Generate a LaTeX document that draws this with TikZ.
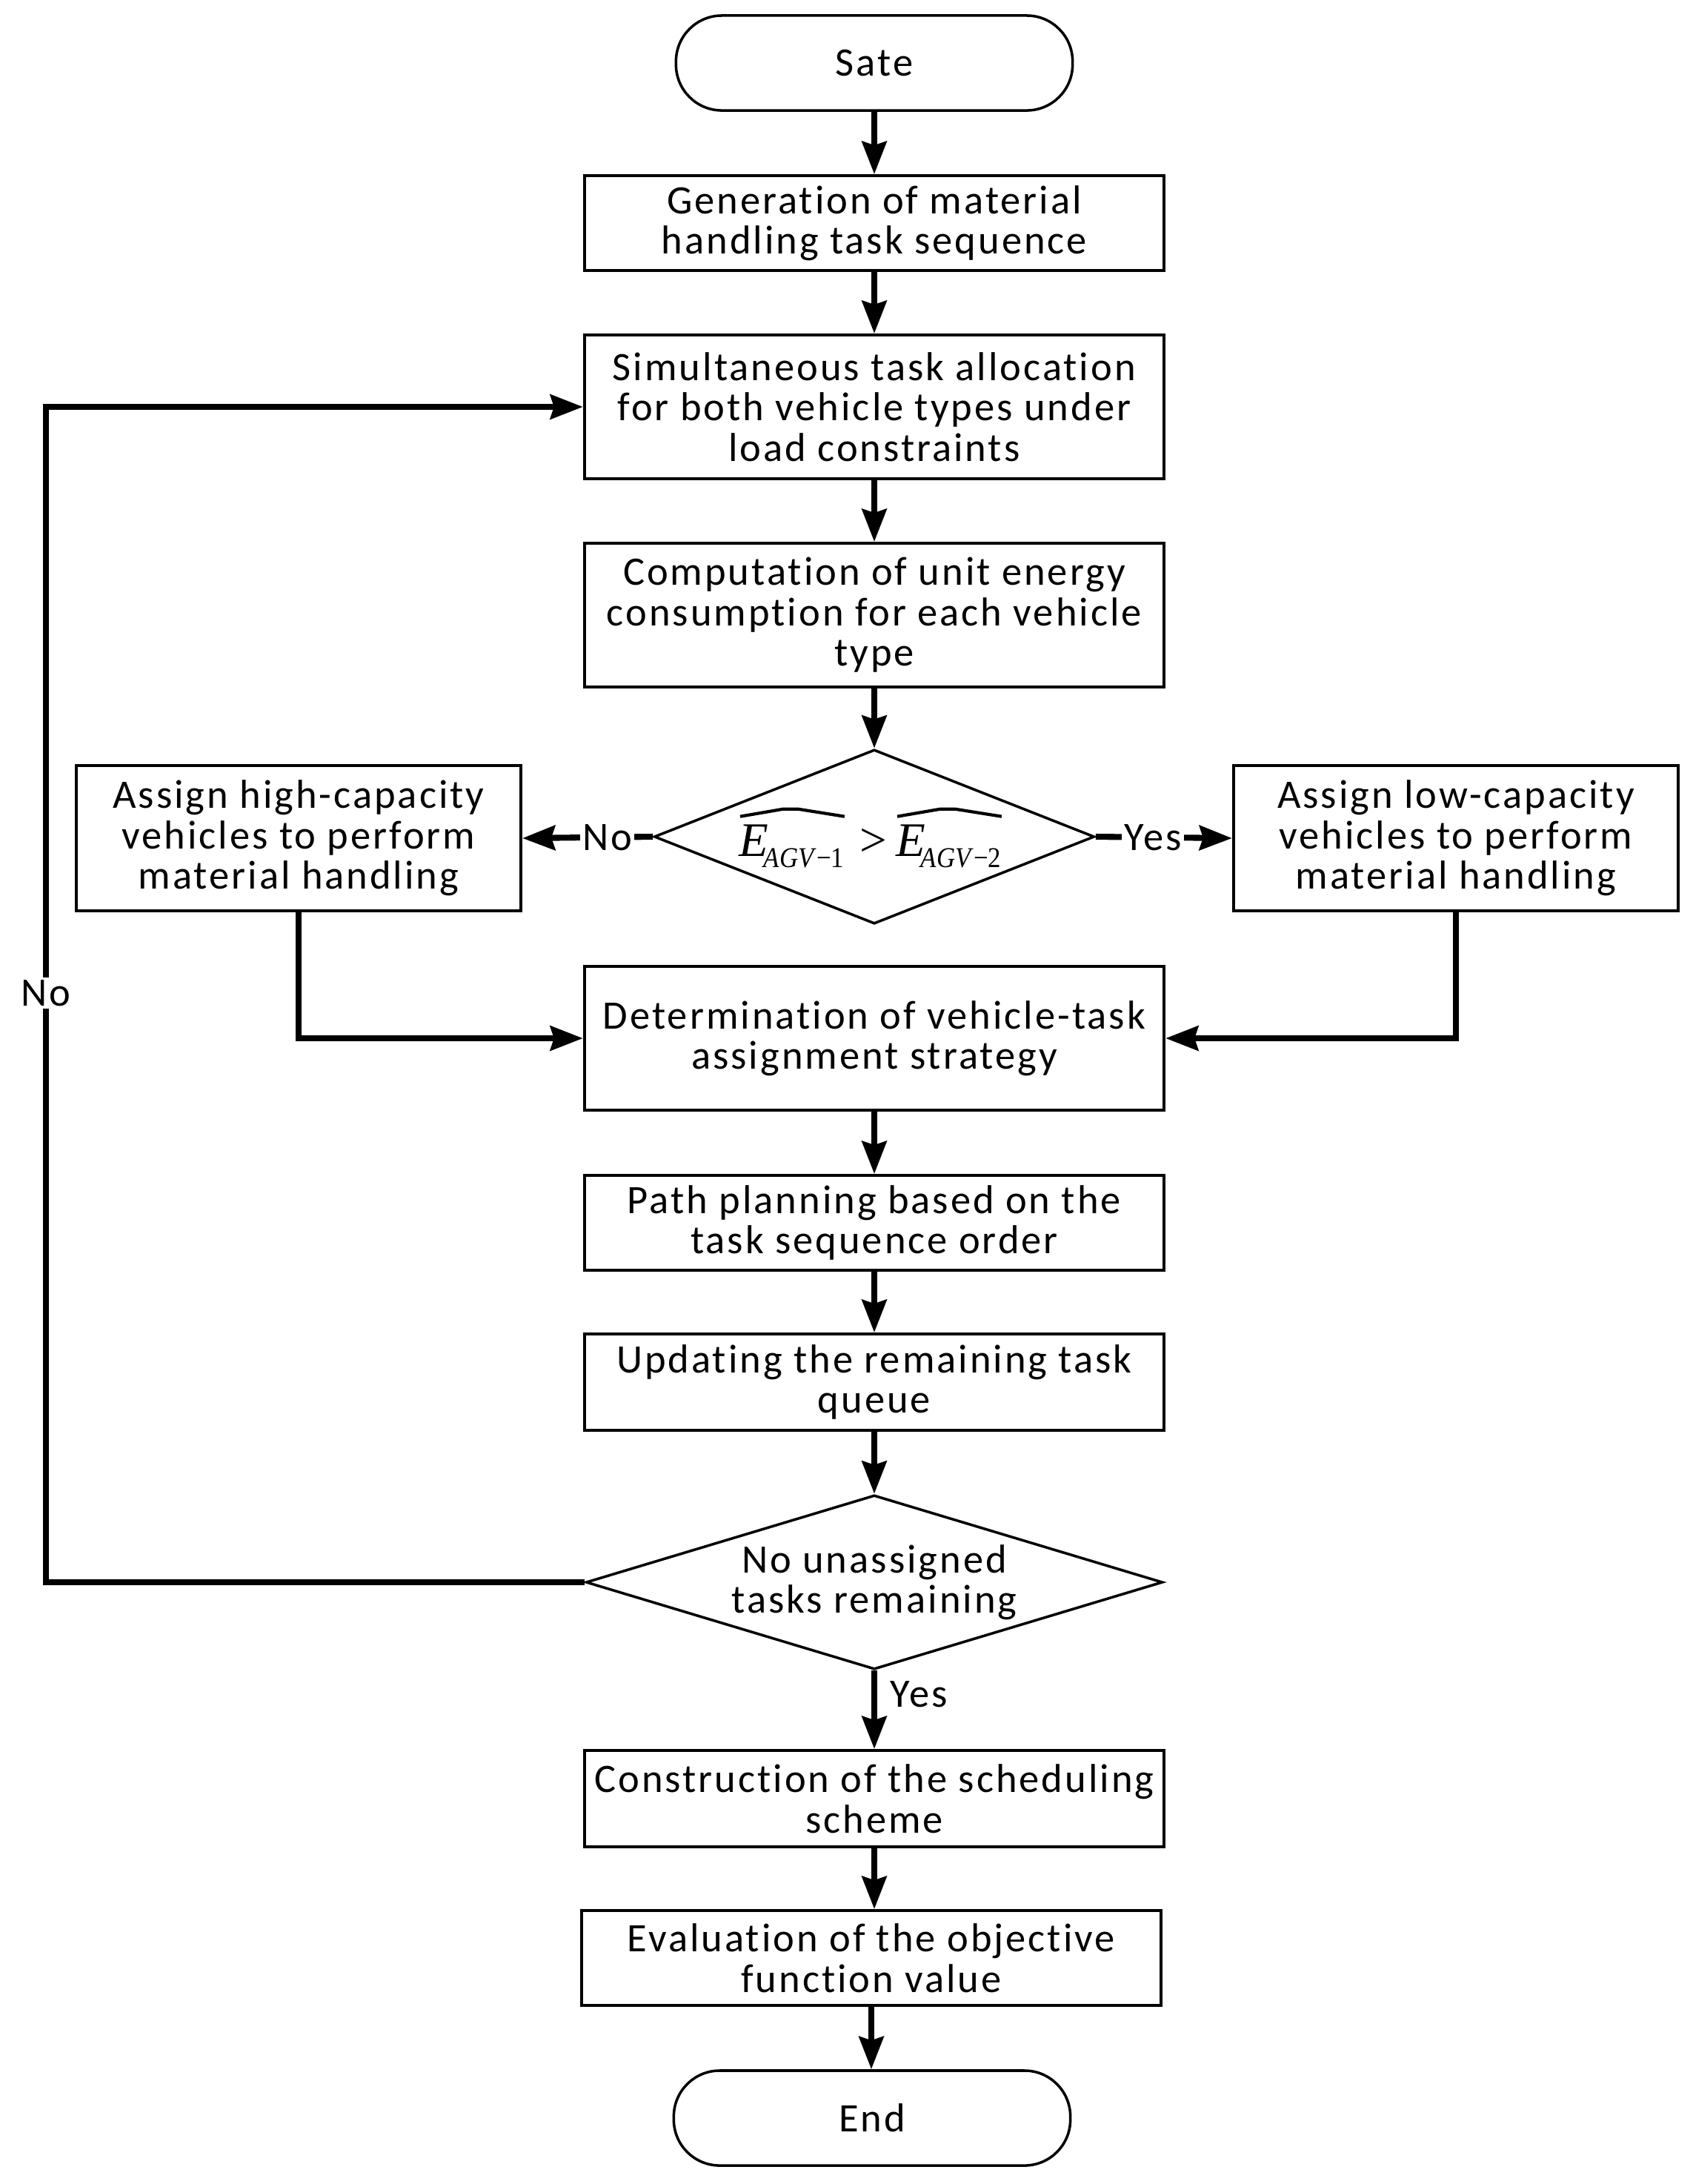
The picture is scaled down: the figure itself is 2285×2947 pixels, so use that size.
\documentclass[tikz,border=0pt]{standalone}
\usepackage{fontspec}
\usepackage{graphicx}
\setmainfont{Carlito}[LetterSpace=5.5,Ligatures=NoCommon]
\newfontfamily\tms{Liberation Serif}
\newcommand\Eterm[1]{{\tms\fontsize{18.5}{18.5}\selectfont\itshape E\kern-0.1em\raisebox{-4.3pt}{\fontsize{11}{11}\selectfont\scalebox{0.9}[1]{\itshape AGV\kern0.1em\upshape−#1}}}}
\usetikzlibrary{shapes.geometric,arrows.meta}
\begin{document}
\begin{tikzpicture}[x=0.01cm,y=-0.01cm,
  font=\fontsize{15.5}{15.5}\selectfont,
  box/.style={draw, line width=1.1pt, minimum width=7.82cm, align=center, inner sep=0pt},
  sbox/.style={draw, line width=1.1pt, minimum width=6.0cm, minimum height=1.96cm, align=center, inner sep=0pt},
  term/.style={draw, line width=1pt, rounded corners=0.62cm, minimum width=5.35cm, minimum height=1.28cm, inner sep=0pt},
  dia/.style={diamond, draw, line width=1pt, inner sep=0pt},
  arr/.style={line width=2.3pt, -{Stealth[length=0.44cm,width=0.33cm,inset=0.05cm]}},
  lbl/.style={fill=white, inner sep=1pt},
  fm/.style={inner sep=0pt, anchor=base west},
  hat/.style={line width=1.2pt, line join=round}]
\useasboundingbox (0,0) rectangle (2285,2947);
\node[term] (start) at (1180,85) {Sate};
\node[box, minimum height=1.28cm] (b1) at (1180,301) {Generation of material\\handling task sequence};
\node[box, minimum height=1.94cm] (b2) at (1180,549) {Simultaneous task allocation\\for both vehicle types under\\load constraints};
\node[box, minimum height=1.94cm] (b3) at (1180,830) {Computation of unit energy\\consumption for each vehicle\\type};
\node[dia, minimum width=5.94cm, minimum height=2.35cm] (d1) at (1180,1129) {};
\node[fm] (f1) at (997,1155) {\Eterm{1}};
\node[fm] (fg) at (1160,1155) {\tms\fontsize{18.5}{18.5}\selectfont >};
\node[fm] (f2) at (1209,1155) {\Eterm{2}};
\draw[hat] ([xshift=0.02cm,yshift=0.1cm]f1.north west) -- ([xshift=0.6cm,yshift=0.2cm]f1.north west) -- ([xshift=0.8cm,yshift=0.2cm]f1.north west) -- ([yshift=0.1cm]f1.north east);
\draw[hat] ([xshift=0.02cm,yshift=0.1cm]f2.north west) -- ([xshift=0.6cm,yshift=0.2cm]f2.north west) -- ([xshift=0.8cm,yshift=0.2cm]f2.north west) -- ([yshift=0.1cm]f2.north east);
\node[sbox] (lb) at (403,1131) {Assign high-capacity\\vehicles to perform\\material handling};
\node[sbox] (rb) at (1965,1131) {Assign low-capacity\\vehicles to perform\\material handling};
\node[box, minimum height=1.94cm] (b4) at (1180,1401) {Determination of vehicle-task\\assignment strategy};
\node[box, minimum height=1.28cm] (b5) at (1180,1650) {Path planning based on the\\task sequence order};
\node[box, minimum height=1.30cm] (b6) at (1180,1865) {Updating the remaining task\\queue};
\node[dia, minimum width=7.78cm, minimum height=2.35cm] (d2) at (1180,2135) {};
\node[align=center] (d2t) at (d2) {No unassigned\\tasks remaining};
\node[box, minimum height=1.30cm] (b7) at (1180,2427) {Construction of the scheduling\\scheme};
\node[box, minimum height=1.28cm] (b8) at (1176,2642) {Evaluation of the objective\\function value};
\node[term] (end) at (1177,2858) {End};
\coordinate (lp) at (62,2135);
\draw[arr] (start) -- (b1);
\draw[arr] (b1) -- (b2);
\draw[arr] (b2) -- (b3);
\draw[arr] (b3) -- (d1);
\draw[arr] (d1.west) -- node[lbl, pos=0.35] {No} (lb.east);
\draw[arr] (d1.east) -- node[lbl, pos=0.42] {Yes} (rb.west);
\draw[arr] (lb.south) |- (b4.west);
\draw[arr] (rb.south) |- (b4.east);
\draw[arr] (b4) -- (b5);
\draw[arr] (b5) -- (b6);
\draw[arr] (b6) -- (d2);
\draw[arr] (d2.west) -- (lp) |- (b2.west);
\node[lbl] (nolab) at (62,1340) {No};
\draw[arr] (d2.south) -- node[pos=0.3, anchor=west, inner sep=5pt] {Yes} (b7.north);
\draw[arr] (b7.south) -- (b8.north -| b7.south);
\draw[arr] (b8.south) -- (end.north -| b8.south);
\end{tikzpicture}
\end{document}
